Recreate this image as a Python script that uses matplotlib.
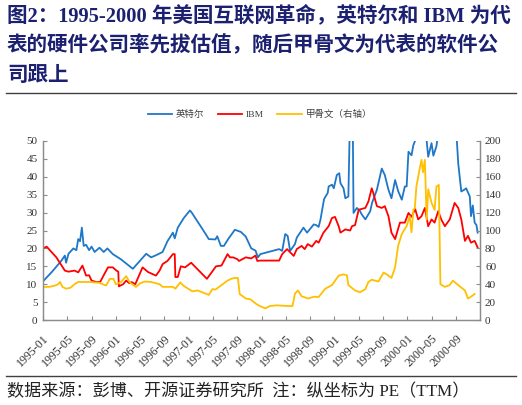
import matplotlib
matplotlib.use("Agg")
import matplotlib.pyplot as plt
from matplotlib.lines import Line2D

# ---------------- data (x = months since 1995-01) ----------------
intel_t = [0, 1.5, 3.0, 3.6, 3.8, 4.2, 5.0, 5.5, 5.8, 6.1, 6.4, 6.7, 7.1, 7.6, 8.0, 8.5, 9.3,
           10.0, 10.6, 11.5, 12.8, 14.8, 17.0, 17.8, 18.5, 19.7, 20.5, 21.4, 21.7, 22.2, 23.2,
           24.2, 24.5, 26.8, 27.3, 28.4, 28.7, 29.3, 29.8, 30.5, 31.6, 32.6, 33.4, 34.3, 35.0,
           35.4, 35.8, 38.9, 39.4, 39.9, 40.3, 40.7, 41.5, 41.8, 42.9, 43.5, 44.6, 45.0, 45.4,
           45.7, 46.3, 46.9, 47.05, 47.6, 47.9, 48.4, 48.8, 49.0, 49.5, 49.8, 50.3, 50.6, 51.0,
           51.15, 51.7, 52.2, 52.5, 53.1, 53.9, 54.2, 55.0, 55.8, 56.3, 56.9, 57.4, 58.0, 58.5,
           59.1, 59.6, 59.9, 60.2, 60.7, 61.0, 61.5, 62.2, 63.0, 63.2, 63.45, 64.0, 64.3, 64.8,
           65.1, 66.0, 67.0, 68.1, 68.4, 68.9, 69.5, 69.7, 70.3, 70.5, 70.8, 71.1, 71.4, 71.6]
intel_pe = [10.8, 13.5, 16.5, 18.0, 16.0, 18.5, 20.0, 19.5, 22.6, 22.0, 25.8, 20.7, 21.0, 19.5,
            20.5, 19.0, 20.2, 19.0, 20.0, 18.4, 17.0, 14.3, 18.5, 17.5, 18.0, 19.0, 22.0, 24.4,
            22.8, 25.8, 28.5, 30.6, 30.0, 24.0, 22.6, 22.5, 23.4, 20.7, 20.7, 22.6, 25.2, 24.6,
            23.3, 20.0, 19.4, 17.5, 18.4, 19.8, 19.3, 24.0, 23.5, 19.3, 21.2, 23.0, 25.8, 24.4,
            26.7, 26.5, 26.0, 28.0, 33.8, 35.5, 37.3, 37.8, 36.8, 40.5, 41.0, 38.2, 36.8, 34.0,
            34.5, 60.0, 60.0, 29.9, 31.3, 30.5, 29.5, 28.1, 30.4, 32.7, 36.4, 42.3, 40.5, 36.4,
            34.0, 39.1, 36.0, 33.6, 37.3, 37.3, 47.0, 46.0, 48.8, 51.0, 55.0, 52.0, 50.0, 45.6,
            49.4, 45.9, 48.5, 52.0, 58.0, 60.0, 52.0, 43.7, 35.9, 36.5, 36.8, 34.5, 29.0, 32.0,
            27.2, 26.5, 24.4]

ibm_t = [0, 0.6, 2.2, 3.6, 4.2, 5.2, 5.8, 6.5, 7.1, 7.6, 8.0, 8.8, 9.4, 10.7, 11.5, 12.1, 12.4,
         12.5, 13.2, 13.7, 14.2, 14.6, 15.2, 16.4, 17.3, 18.6, 19.2, 19.7, 20.5, 21.4, 21.7,
         21.8, 22.2, 22.7, 23.4, 24.4, 27.0, 28.5, 29.4, 30.4, 30.8, 31.3, 32.0, 32.3, 33.4,
         34.3, 35.0, 35.3, 35.8, 38.9, 39.4, 40.2, 41.3, 41.8, 42.6, 43.1, 43.6, 44.3, 45.0,
         45.4, 46.2, 47.05, 47.6, 48.1, 48.7, 49.0, 49.8, 50.6, 50.9, 51.4, 52.0, 53.1, 53.6,
         54.15, 54.4, 55.0, 55.8, 56.3, 56.9, 57.4, 58.0, 58.5, 58.8, 59.6, 60.2, 60.7, 61.3,
         61.8, 62.35, 62.9, 63.45, 64.0, 64.5, 65.1, 65.6, 66.2, 67.0, 67.8, 68.4, 68.9, 69.5,
         70.0, 70.5, 71.1, 71.4, 71.6]
ibm_pe = [20.0, 20.5, 17.5, 13.8, 13.5, 13.8, 13.3, 15.2, 12.4, 12.5, 11.0, 10.6, 10.6, 14.7,
          14.7, 13.8, 13.5, 9.4, 10.0, 11.0, 10.3, 10.6, 10.0, 14.7, 13.4, 12.4, 13.8, 15.6,
          16.5, 18.4, 18.4, 12.0, 12.0, 15.0, 14.7, 16.0, 11.5, 15.0, 15.2, 18.4, 17.5, 17.5,
          17.0, 16.5, 17.5, 17.2, 18.0, 16.5, 16.6, 16.6, 18.4, 19.8, 17.9, 19.8, 20.7, 19.8,
          21.2, 20.5, 22.1, 21.6, 24.4, 26.2, 28.5, 28.8, 26.2, 24.4, 25.3, 25.0, 26.2, 26.5,
          30.8, 31.3, 33.1, 36.8, 35.5, 31.8, 31.3, 31.8, 29.0, 24.4, 22.6, 25.5, 27.2, 27.2,
          29.9, 28.8, 31.0, 28.1, 29.0, 31.3, 26.2, 28.1, 27.2, 30.4, 28.1, 26.2, 28.1, 32.7,
          31.3, 28.1, 22.1, 23.5, 21.6, 22.1, 21.0, 20.2]

oracle_t = [0, 1.0, 2.0, 2.5, 2.8, 3.2, 3.8, 4.5, 5.2, 5.8, 7.6, 9.3, 10.4, 11.0, 11.6, 12.0,
            12.8, 13.7, 14.3, 15.3, 16.0, 16.8, 17.8, 19.2, 19.7, 21.4, 21.8, 22.4, 22.6, 23.2,
            24.6, 25.5, 27.3, 27.9, 28.4, 29.3, 30.4, 31.0, 31.6, 32.1, 32.4, 33.4, 34.2, 35.0,
            35.6, 36.6, 37.4, 38.5, 40.4, 41.1, 41.5, 42.0, 42.6, 43.7, 44.6, 45.4, 46.5, 47.6,
            48.7, 49.5, 50.05, 50.3, 51.4, 52.2, 53.1, 53.6, 54.15, 55.25, 56.1, 56.6, 57.4,
            58.0, 58.5, 59.1, 59.9, 60.4, 60.7, 61.0, 61.25, 61.5, 62.1, 62.35, 62.6, 62.9, 63.2,
            63.45, 64.0, 64.5, 64.8, 65.2, 65.46, 66.2, 67.0, 67.5, 68.4, 69.5, 70.0, 70.5, 71.1]
oracle_pe = [37, 37, 38.5, 40, 42.5, 37, 35, 36, 40, 42.5, 42.5, 41.5, 38.5, 46, 46, 40, 42, 49,
             42, 37, 41, 43, 42.5, 40, 37, 37, 35, 40, 42, 38, 32, 33, 28, 34.5, 34, 38.5, 44, 46,
             47, 47, 29, 24, 23, 18.5, 16, 13, 15.6, 16.4, 15.6, 15.6, 29.5, 33, 26.5, 24, 26,
             25.7, 35, 39, 49.5, 51, 50, 39, 33, 31, 34.5, 42.5, 45, 43, 53, 51, 47, 59, 83, 96,
             105, 116, 98, 123, 125, 149, 171, 179, 165, 179, 112, 146, 131, 123, 149, 151, 40,
             37, 39, 44, 39, 33, 24, 26, 29]

tick_pos = list(range(0, 69, 4))
tick_labels = ["1995-01", "1995-05", "1995-09", "1996-01", "1996-05", "1996-09",
               "1997-01", "1997-05", "1997-09", "1998-01", "1998-05", "1998-09",
               "1999-01", "1999-05", "1999-09", "2000-01", "2000-05", "2000-09"]

names = ["英特尔", "IBM", "甲骨文（右轴）"]
colors = ["#1F77C8", "#FF0000", "#FFC000"]

title_lines = ["图2：1995-2000 年美国互联网革命，英特尔和 IBM 为代",
               "表的硬件公司率先拔估值，随后甲骨文为代表的软件公",
               "司跟上"]
source = "数据来源：彭博、开源证券研究所  注：纵坐标为 PE（TTM）"

# ---------------- figure ----------------
W, H = 522, 405
fig = plt.figure(figsize=(W / 100, H / 100), dpi=100)
serif_cjk = ["Liberation Serif", "Noto Sans CJK SC"]
title_color = "#1B2170"

for i, line in enumerate(title_lines):
    fig.text(7 / W, 1 - (16 + 30 * i) / H, line, family=serif_cjk, fontsize=14.8,
             fontweight="bold", color=title_color, ha="left", va="center")

fig.add_artist(Line2D([6 / W, 516 / W], [1 - 93.3 / H, 1 - 93.3 / H],
                      transform=fig.transFigure, color="#404040", lw=1.0))
fig.add_artist(Line2D([6 / W, 516 / W], [1 - 376 / H, 1 - 376 / H],
                      transform=fig.transFigure, color="#404040", lw=1.0))
fig.text(7 / W, 1 - 392 / H, source, family=serif_cjk, fontsize=12.3,
         color="#222222", ha="left", va="center")

ax = fig.add_axes([43 / W, 1 - 320 / H, (479.5 - 43) / W, (320 - 141) / H])
ax2 = ax.twinx()

l1, = ax.plot(intel_t, intel_pe, color=colors[0], lw=1.3, label=names[0])
l2, = ax.plot(ibm_t, ibm_pe, color=colors[1], lw=1.3, label=names[1])
l3, = ax2.plot(oracle_t, oracle_pe, color=colors[2], lw=1.3, label=names[2])

ax.set_xlim(0, 71.9)
ax.set_ylim(0, 50)
ax2.set_ylim(0, 200)
ax.set_yticks(range(0, 51, 5))
ax2.set_yticks(range(0, 201, 20))
ax.set_xticks(tick_pos)
ax.set_xticklabels(tick_labels, rotation=45, ha="right", va="top",
                   rotation_mode="anchor")

spine_c = "#8C8C8C"
for a in (ax, ax2):
    a.spines["top"].set_visible(False)
    for s in ("left", "right", "bottom"):
        a.spines[s].set_color(spine_c)
        a.spines[s].set_linewidth(0.9)
    a.tick_params(direction="in", length=3, width=0.8, color=spine_c,
                  labelsize=8, labelcolor="#333333")
    for lab in a.get_xticklabels() + a.get_yticklabels():
        lab.set_family("Liberation Serif")
ax.tick_params(axis="x", labelsize=8.6, pad=9)
ax.tick_params(axis="y", pad=4)
ax2.tick_params(axis="y", pad=4)
ax.patch.set_visible(False)

leg = fig.legend(handles=[l1, l2, l3], labels=names, loc="center",
                 bbox_to_anchor=(260 / W, 1 - 114.5 / H), ncol=3, frameon=False,
                 prop={"family": serif_cjk, "size": 6.8}, handlelength=2.6,
                 handletextpad=0.4, columnspacing=1.4)
for t in leg.get_texts():
    t.set_color("#404040")
for h in leg.get_lines():
    h.set_linewidth(1.3)

fig.savefig("out.png", dpi=100)
